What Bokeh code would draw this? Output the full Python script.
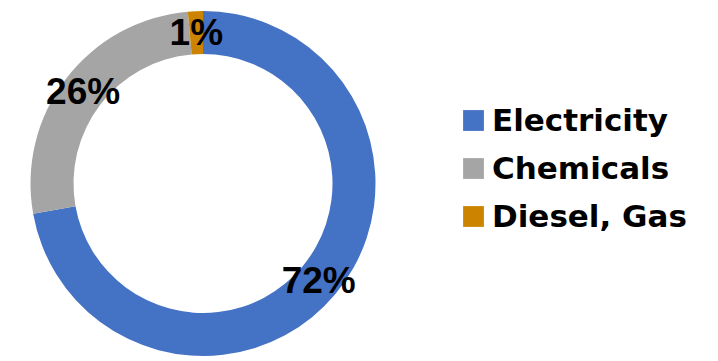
import math
from bokeh.plotting import figure
from bokeh.models import ColumnDataSource, Range1d, Legend, LegendItem
from bokeh.core.properties import value
from bokeh.embed import file_html
from bokeh.resources import INLINE

# ---- data ----
categories = ["Electricity", "Chemicals", "Diesel, Gas"]
shares = [72.2, 26.4, 1.4]
labels = ["72%", "26%", "1%"]
colors = ["#4472C4", "#A5A5A5", "#CC8400"]

W, H = 718, 361
cx, cy = 202.5, H - 183
r_out, r_in = 172.5, 129.5

total = sum(shares)
starts, ends, lx, ly = [], [], [], []
acc = 0.0
for s in shares:
    a0 = math.pi / 2 - 2 * math.pi * acc / total
    acc += s
    a1 = math.pi / 2 - 2 * math.pi * acc / total
    starts.append(a0)
    ends.append(a1)
    mid = (a0 + a1) / 2
    rm = (r_out + r_in) / 2
    lx.append(cx + rm * math.cos(mid))
    ly.append(cy + rm * math.sin(mid))

src = ColumnDataSource(dict(cat=categories, start=starts, end=ends,
                            color=colors, lx=lx, ly=ly, label=labels))

p = figure(width=W, height=H, output_backend="svg", toolbar_location=None,
           x_range=Range1d(0, W), y_range=Range1d(0, H),
           min_border=0, outline_line_color=None)
p.axis.visible = False
p.grid.visible = False
p.background_fill_color = "white"
p.border_fill_color = "white"

r = p.annular_wedge(x=cx, y=cy, inner_radius=r_in, outer_radius=r_out,
                    start_angle="start", end_angle="end", direction="clock",
                    fill_color="color", line_color=None, source=src)

p.text(x="lx", y="ly", text="label", source=src,
       text_font=value("Liberation Sans"), text_font_style="bold",
       text_font_size="37px", text_align="center", text_baseline="middle",
       text_color="black")

items = [LegendItem(label=c, renderers=[r], index=i) for i, c in enumerate(categories)]
legend = Legend(items=items, location=(460, 127),
                glyph_width=26, glyph_height=26, label_standoff=6,
                label_height=36, spacing=12, padding=0, margin=0,
                border_line_color=None, background_fill_alpha=0,
                label_text_font="DejaVu Sans", label_text_font_style="bold",
                label_text_font_size="31px", label_text_color="black")
p.add_layout(legend)

open("out.html", "w").write(file_html(p, INLINE))
